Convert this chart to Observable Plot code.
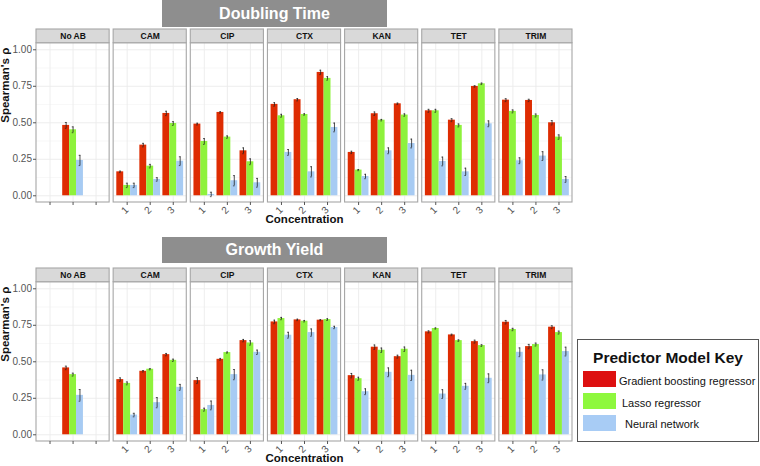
<!DOCTYPE html>
<html>
<head>
<meta charset="utf-8">
<script src="https://cdn.jsdelivr.net/npm/d3@7"></script>
<script src="https://cdn.jsdelivr.net/npm/@observablehq/plot@0.6"></script>
<style>
  html, body { margin: 0; padding: 0; background: #fff; }
  #page { position: relative; width: 760px; height: 466px; overflow: hidden; font-family: "Liberation Sans", Arial, sans-serif; }
  .banner { position: absolute; left: 162px; width: 225px; background: #8e8e8e; color: #fff; font-weight: bold; font-size: 16px; display: flex; align-items: center; justify-content: center; }
  .panel { position: absolute; left: 0; }
  #legend { position: absolute; left: 577px; top: 339px; width: 182px; height: 103px; border: 1px solid #555; box-sizing: border-box; background: #fff; }
  #legend .title { position: absolute; left: 0; right: 0; top: 9px; text-align: center; font-weight: bold; font-size: 15.5px; color: #111; }
  #legend .sw { position: absolute; left: 5px; width: 33px; height: 16px; }
  #legend .lab { position: absolute; font-size: 11px; color: #111; line-height: 16px; white-space: nowrap; }
</style>
</head>
<body>
<div id="page">
  <div class="banner" style="top:0px;height:27px;">Doubling Time</div>
  <div class="panel" id="p1" style="top:27px;"></div>
  <div class="banner" style="top:237px;height:26px;">Growth Yield</div>
  <div class="panel" id="p2" style="top:266px;"></div>
  <div id="legend"></div>
</div>
<script>
// ---- data ----
const antibiotics = ["No AB", "CAM", "CIP", "CTX", "KAN", "TET", "TRIM"];
const models = ["Gradient boosting regressor", "Lasso regressor", "Neural network"];
const concLabels = ["1", "2", "3"];
// group order: No AB, then each antibiotic at concentrations 1,2,3
const groupAntibiotic = ["No AB", "CAM","CAM","CAM", "CIP","CIP","CIP", "CTX","CTX","CTX", "KAN","KAN","KAN", "TET","TET","TET", "TRIM","TRIM","TRIM"];
const groupConc = [2, 1,2,3, 1,2,3, 1,2,3, 1,2,3, 1,2,3, 1,2,3];

// Doubling Time
const dtGB    = [0.482, 0.164,0.347,0.564, 0.491,0.571,0.308, 0.626,0.658,0.845, 0.297,0.562,0.630, 0.582,0.518,0.749, 0.655,0.653,0.500];
const dtLasso = [0.452, 0.071,0.203,0.495, 0.372,0.402,0.233, 0.548,0.557,0.804, 0.176,0.518,0.553, 0.582,0.482,0.767, 0.578,0.550,0.402];
const dtNN    = [0.242, 0.071,0.112,0.237, 0.009,0.103,0.089, 0.297,0.164,0.468, 0.132,0.308,0.358, 0.235,0.164,0.493, 0.240,0.272,0.112];
const dtGBErr    = [0.020, 0.005,0.012,0.015, 0.006,0.005,0.020, 0.012,0.008,0.015, 0.008,0.012,0.005, 0.010,0.010,0.005, 0.010,0.008,0.015];
const dtLassoErr = [0.020, 0.015,0.012,0.013, 0.020,0.008,0.020, 0.010,0.005,0.012, 0.004,0.005,0.008, 0.010,0.010,0.005, 0.010,0.010,0.015];
const dtNNErr    = [0.035, 0.015,0.012,0.030, 0.015,0.035,0.030, 0.020,0.035,0.030, 0.015,0.020,0.030, 0.030,0.025,0.020, 0.020,0.030,0.020];

// Growth Yield
const gyGB    = [0.458, 0.378,0.435,0.549, 0.371,0.517,0.645, 0.773,0.787,0.785, 0.405,0.600,0.535, 0.705,0.684,0.638, 0.771,0.604,0.737];
const gyLasso = [0.412, 0.352,0.449,0.510, 0.172,0.563,0.629, 0.796,0.778,0.789, 0.384,0.579,0.586, 0.728,0.645,0.611, 0.721,0.618,0.700];
const gyNN    = [0.270, 0.135,0.220,0.325, 0.201,0.412,0.565, 0.682,0.700,0.735, 0.295,0.428,0.407, 0.279,0.332,0.387, 0.565,0.410,0.570];
const gyGBErr    = [0.012, 0.012,0.005,0.008, 0.020,0.006,0.008, 0.012,0.005,0.004, 0.015,0.015,0.010, 0.007,0.005,0.010, 0.012,0.015,0.010];
const gyLassoErr = [0.010, 0.010,0.004,0.008, 0.010,0.004,0.015, 0.008,0.005,0.006, 0.010,0.015,0.015, 0.004,0.005,0.006, 0.008,0.010,0.010];
const gyNNErr    = [0.040, 0.012,0.035,0.020, 0.030,0.035,0.015, 0.020,0.025,0.008, 0.020,0.030,0.035, 0.030,0.020,0.030, 0.030,0.035,0.030];

const yMajor = [0, 0.25, 0.5, 0.75, 1];
const yMinor = [0.125, 0.375, 0.625, 0.875];

const barColors = ["#de2c02", "#8ef23c", "#a7cbf3"];
const legendColors = ["#dd1010", "#8ef83e", "#a8ccf5"];

// ---- build ----
const GROUP = 0.9, BW = GROUP / models.length;
function rowsFor(seriesVals, seriesErr) {
  const rows = [];
  groupAntibiotic.forEach((ab, gi) => {
    models.forEach((m, mi) => {
      const x1 = groupConc[gi] - GROUP / 2 + mi * BW;
      rows.push({ab, model: m, x1, x2: x1 + BW, xc: x1 + BW / 2,
                 v: seriesVals[mi][gi], e: seriesErr[mi][gi]});
    });
  });
  return rows;
}
const tickRows = [];
groupAntibiotic.forEach((ab, gi) => { if (ab !== "No AB") tickRows.push({ab, c: groupConc[gi], label: concLabels[groupConc[gi] - 1]}); });

const font = '"Liberation Sans", Arial, sans-serif';
const Y0 = -0.046, PTOP = 1.045, STOP = 1.139;

function panel(rows) {
  return Plot.plot({
    width: 575, height: 202,
    marginTop: 2, marginBottom: 27, marginLeft: 36, marginRight: 3,
    style: {fontFamily: font, background: "transparent", overflow: "visible"},
    fx: {domain: antibiotics, paddingInner: 0.052, paddingOuter: 0, round: false, axis: null},
    x: {type: "linear", domain: [0.413, 3.587], axis: null},
    y: {domain: [Y0, STOP], axis: null},
    color: {domain: models, range: barColors},
    marks: [
      Plot.gridY(yMinor, {stroke: "#f4f4f4", strokeOpacity: 1, strokeWidth: 0.6}),
      Plot.gridY(yMajor, {stroke: "#ebebeb", strokeOpacity: 1, strokeWidth: 0.9}),
      Plot.gridX([1, 2, 3], {stroke: "#ebebeb", strokeOpacity: 1, strokeWidth: 0.9}),
      Plot.rectY(rows, {fx: "ab", x1: "x1", x2: "x2", y1: () => 0, y2: "v", fill: "model"}),
      Plot.ruleX(rows, {fx: "ab", x: "xc", y1: d => d.v - d.e, y2: d => d.v + d.e, stroke: "#222", strokeWidth: 0.8}),
      Plot.ruleY(rows, {fx: "ab", x1: d => d.xc - 0.035, x2: d => d.xc + 0.035, y: d => d.v + d.e, stroke: "#222", strokeWidth: 0.7}),
      Plot.ruleY(rows, {fx: "ab", x1: d => d.xc - 0.035, x2: d => d.xc + 0.035, y: d => d.v - d.e, stroke: "#222", strokeWidth: 0.7}),
      Plot.rect(antibiotics, {fx: d => d, y1: () => Y0, y2: () => PTOP, fill: "none", stroke: "#a6a6a6", strokeWidth: 1.1}),
      Plot.rect(antibiotics, {fx: d => d, y1: () => PTOP, y2: () => STOP, fill: "#d9d9d9", stroke: "#a6a6a6", strokeWidth: 1.1}),
      Plot.text(antibiotics, {fx: d => d, y: () => (PTOP + STOP) / 2, text: d => d, fontWeight: "bold", fontSize: 8.5, fill: "#111"}),
      Plot.axisY(yMajor, {tickFormat: d3.format(".2f"), tickSize: 3, tickPadding: 1.5, fontSize: 10, color: "#555", label: null}),
      Plot.axisX([1, 2, 3], {tickSize: 3, tickFormat: () => "", color: "#555", label: null}),
      Plot.text(tickRows, {fx: "ab", x: "c", text: "label", frameAnchor: "bottom", dy: 10, rotate: -45, fontSize: 10, fill: "#555"}),
      Plot.text(["Spearman's ρ"], {fx: () => "No AB", y: () => 0.5, frameAnchor: "left", dx: -31, rotate: -90, fontWeight: "bold", fontSize: 11.5, fill: "#111"}),
      Plot.text(["Concentration"], {fx: () => "CTX", frameAnchor: "bottom", dy: 20, fontWeight: "bold", fontSize: 11.5, fill: "#111"})
    ]
  });
}

document.getElementById("p1").append(panel(rowsFor([dtGB, dtLasso, dtNN], [dtGBErr, dtLassoErr, dtNNErr])));
document.getElementById("p2").append(panel(rowsFor([gyGB, gyLasso, gyNN], [gyGBErr, gyLassoErr, gyNNErr])));

// legend
const lg = document.getElementById("legend");
const t = document.createElement("div"); t.className = "title"; t.textContent = "Predictor Model Key"; lg.append(t);
const labelLeft = [41, 44, 47];
models.forEach((m, i) => {
  const sw = document.createElement("div"); sw.className = "sw";
  sw.style.top = (31 + i * 22) + "px"; sw.style.background = legendColors[i];
  lg.append(sw);
  const lab = document.createElement("div"); lab.className = "lab";
  lab.style.top = (33 + i * 21.5) + "px"; lab.style.left = labelLeft[i] + "px";
  lab.textContent = m; lg.append(lab);
});
</script>
</body>
</html>
